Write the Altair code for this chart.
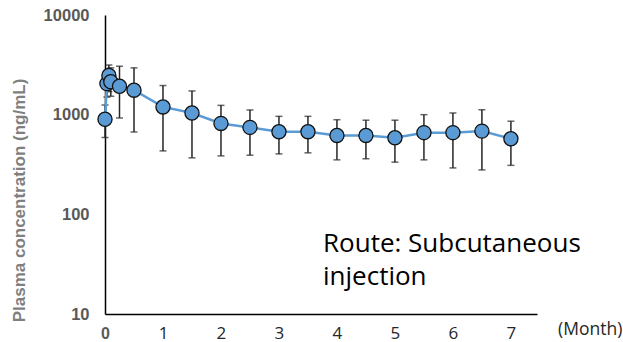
import altair as alt
import pandas as pd

# ---- data ----
months = [0, 0.033, 0.067, 0.1, 0.25, 0.5, 1, 1.5, 2, 2.5, 3, 3.5, 4, 4.5, 5, 5.5, 6, 6.5, 7]
conc   = [900, 2050, 2470, 2140, 1930, 1760, 1196, 1040, 817, 745, 675, 675, 619, 619, 587, 660, 660, 684, 573]
lower  = [590, 1500, 1700, 1530, 926, 670, 433, 369, 386, 392, 404, 414, 352, 361, 334, 352, 292, 279, 310]
upper  = [1250, 2700, 3150, 2950, 3060, 2950, 1960, 1730, 1240, 1115, 962, 962, 890, 880, 880, 1000, 1040, 1120, 860]

y_ticks = [10, 100, 1000, 10000]
x_ticks = [0, 1, 2, 3, 4, 5, 6, 7]
y_title = "Plasma concentration (ng/mL)"
x_unit = "(Month)"
note = "Route: Subcutaneous\ninjection"

df = pd.DataFrame({"month": months, "conc": conc, "lo": lower, "hi": upper})

W, H = 432, 299
BLUE = "#5b9bd5"
ERR = "#262626"

xs = alt.Scale(domain=[0, 7.45], nice=False, zero=False)
ys = alt.Scale(type="log", domain=[10, 10000], nice=False)

x_axis = alt.Axis(
    values=x_ticks, grid=False, ticks=False, domainColor="#000000", domainWidth=1.5,
    format="d",
    labelFont={"condition": {"test": "datum.value === 0", "value": "Liberation Sans"}, "value": "Open Sans"},
    labelFontWeight={"condition": {"test": "datum.value === 0", "value": "bold"}, "value": "normal"},
    labelColor={"condition": {"test": "datum.value === 0", "value": "#595959"}, "value": "#262626"},
    labelFontSize={"condition": {"test": "datum.value === 0", "value": 16}, "value": 17},
    labelPadding=11, labelFlush=False, title=None,
)
y_axis = alt.Axis(
    values=y_ticks, grid=False, ticks=False, domainColor="#000000", domainWidth=1.5,
    labelFont="Liberation Sans", labelFontWeight="bold", labelFontSize=16.5, labelColor="#595959",
    labelPadding=16, format="d",
    title=y_title, titleFont="Liberation Sans", titleFontWeight="bold", titleFontSize=17,
    titleColor="#7f7f7f", titleX=-86, titleY=185, titleAngle=270, titleAlign="center",
    titleBaseline="middle",
)

base = alt.Chart(df)

rules = base.mark_rule(color=ERR, strokeWidth=1.5).encode(
    x=alt.X("month:Q", scale=xs, axis=x_axis),
    y=alt.Y("lo:Q", scale=ys, axis=y_axis),
    y2="hi:Q",
)
cap_lo = base.mark_tick(orient="horizontal", size=7, thickness=1.5, color=ERR).encode(
    x=alt.X("month:Q", scale=xs), y=alt.Y("lo:Q", scale=ys))
cap_hi = base.mark_tick(orient="horizontal", size=7, thickness=1.5, color=ERR).encode(
    x=alt.X("month:Q", scale=xs), y=alt.Y("hi:Q", scale=ys))

line = base.mark_line(color=BLUE, strokeWidth=2.5).encode(
    x=alt.X("month:Q", scale=xs), y=alt.Y("conc:Q", scale=ys))
pts = base.mark_point(filled=True, fill=BLUE, stroke="#111111", strokeWidth=1.3,
                      size=200, opacity=1, shape="circle").encode(
    x=alt.X("month:Q", scale=xs), y=alt.Y("conc:Q", scale=ys))

txt_df = pd.DataFrame({"t": [note]})
note_mark = alt.Chart(txt_df).mark_text(
    align="left", baseline="alphabetic", font="Open Sans", fontSize=26,
    lineBreak="\n", lineHeight=33, color="#000000",
).encode(text="t:N", x=alt.value(218), y=alt.value(237))

unit_df = pd.DataFrame({"t": [x_unit]})
unit_mark = alt.Chart(unit_df).mark_text(
    align="left", baseline="alphabetic", font="Open Sans", fontSize=17.5, color="#262626",
).encode(text="t:N", x=alt.value(453), y=alt.value(320))

chart = alt.layer(rules, cap_lo, cap_hi, line, pts, note_mark, unit_mark).properties(
    width=W, height=H,
    autosize=alt.AutoSizeParams(type="none"),
    padding={"left": 105, "top": 15, "right": 86, "bottom": 28},
    background="white",
).configure_view(stroke="transparent")

chart.save("out.html", embed_options={"renderer": "svg", "actions": False})
